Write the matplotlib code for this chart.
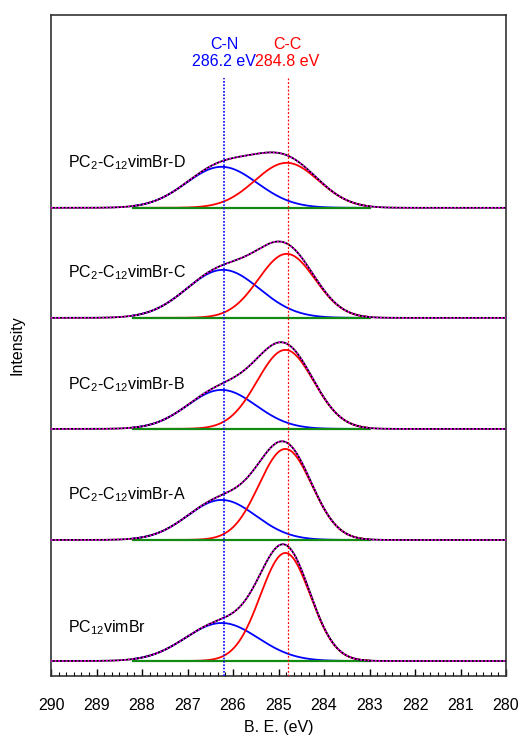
import numpy as np
import matplotlib
matplotlib.use('Agg')
import matplotlib.pyplot as plt
from matplotlib.ticker import MultipleLocator, AutoMinorLocator

plt.rcParams['font.family'] = ['Liberation Sans', 'DejaVu Sans']
plt.rcParams['mathtext.default'] = 'regular'

# samples, top to bottom
samples = [r'PC$_2$-C$_{12}$vimBr-D', r'PC$_2$-C$_{12}$vimBr-C', r'PC$_2$-C$_{12}$vimBr-B',
           r'PC$_2$-C$_{12}$vimBr-A', r'PC$_{12}$vimBr']
offsets = [468, 358, 247, 136, 15]          # stacked baselines (a.u.)
label_heights = [45, 45, 44, 45, 33]

# fitted components: C-N (blue) and C-C (red)
cn_center = [286.25, 286.22, 286.25, 286.25, 286.25]
cn_height = [41, 48, 39, 40, 38]
cn_sigma = [0.78, 0.80, 0.75, 0.75, 0.80]
cc_center = [284.82, 284.82, 284.85, 284.85, 284.85]
cc_height = [45, 64, 79, 91, 108]
cc_sigma = [0.70, 0.62, 0.62, 0.58, 0.55]

fit_range = (288.2, 283.0)
cn_pos = 286.2
cc_pos = 284.8


def gauss(x, c, h, s):
    return h * np.exp(-0.5 * ((x - c) / s) ** 2)


fig = plt.figure(figsize=(5.26, 7.38), dpi=100)
ax = fig.add_axes([0.097, 0.084, 0.865, 0.896])

x_all = np.linspace(290, 280, 800)
x_fit = np.linspace(fit_range[0], fit_range[1], 500)

for i in range(len(samples)):
    off = offsets[i]
    env_all = off + gauss(x_all, cn_center[i], cn_height[i], cn_sigma[i]) + \
        gauss(x_all, cc_center[i], cc_height[i], cc_sigma[i])
    ax.plot(x_fit, off + gauss(x_fit, cn_center[i], cn_height[i], cn_sigma[i]), color='#0000ff', lw=1.3, zorder=2)
    ax.plot(x_fit, off + gauss(x_fit, cc_center[i], cc_height[i], cc_sigma[i]), color='#ff0000', lw=1.3, zorder=2)
    ax.plot(x_fit, np.full_like(x_fit, off), color='#138a13', lw=1.6, zorder=3)
    ax.plot(x_all, env_all, color='black', lw=1.3, zorder=4)
    ax.plot(x_all, env_all, color='#ff00ff', lw=1.2, ls=(0, (1, 1.2)), zorder=5)
    ax.text(289.62, off + label_heights[i], samples[i], fontsize=11.5, va='center', ha='left')

ax.axvline(cn_pos, ymax=0.905, color='#0000ff', lw=1.2, ls=(0, (1, 1)), zorder=6)
ax.axvline(cc_pos, ymax=0.905, color='#ff0000', lw=0.9, ls=(0, (1.5, 1.5)), zorder=6)
ax.text(cn_pos, 631, 'C-N', color='#0000ff', fontsize=11.5, ha='center', va='center')
ax.text(cn_pos, 614, '286.2 eV', color='#0000ff', fontsize=11.5, ha='center', va='center')
ax.text(cc_pos, 631, 'C-C', color='#ff0000', fontsize=11.5, ha='center', va='center')
ax.text(cc_pos, 614, '284.8 eV', color='#ff0000', fontsize=11.5, ha='center', va='center')

ax.set_xlim(290, 280)
ax.set_ylim(0, 661)
ax.xaxis.set_major_locator(MultipleLocator(1))
ax.xaxis.set_minor_locator(AutoMinorLocator(6))
ax.tick_params(axis='x', which='major', direction='in', length=5, width=1, pad=16, labelsize=11.5)
ax.tick_params(axis='x', which='minor', direction='in', length=3, width=0.8)
ax.set_yticks([])
for sp in ax.spines.values():
    sp.set_linewidth(1.2)
    sp.set_color('#333333')

ax.set_xlabel('B. E. (eV)', fontsize=11.5, labelpad=5)
ax.set_ylabel('Intensity', fontsize=11.5, labelpad=19)

fig.savefig('out.png', dpi=100)
